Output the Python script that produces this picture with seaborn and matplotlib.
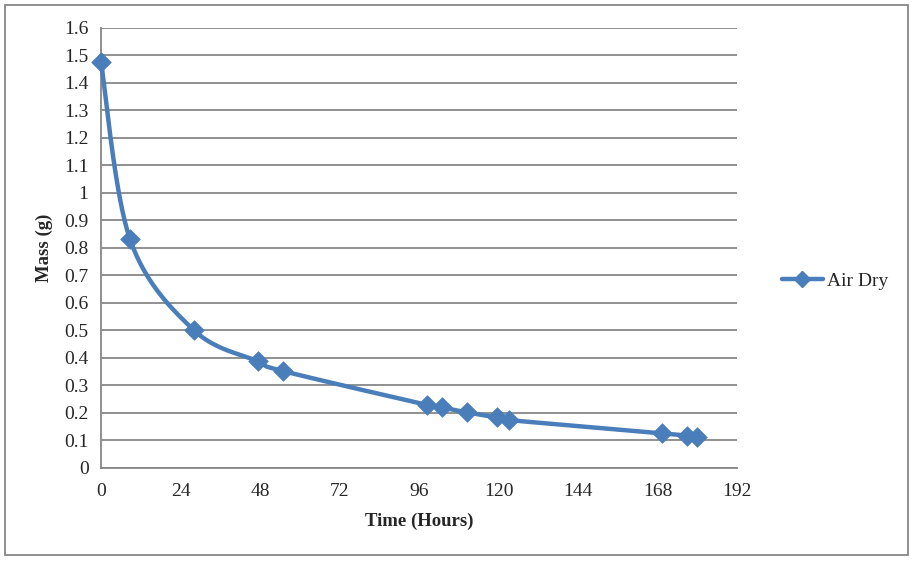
import numpy as np
import matplotlib
matplotlib.use("Agg")
import matplotlib.pyplot as plt
from matplotlib.lines import Line2D
from matplotlib.patches import Rectangle
import seaborn as sns

# ── DATA ──────────────────────────────────────────────────
hours = [0, 8.75, 28, 47.3, 55, 98.5, 103, 110.4, 119.5, 123.3, 169.3, 177, 180]
mass = [1.475, 0.831, 0.501, 0.388, 0.352, 0.229, 0.220, 0.202, 0.184, 0.174, 0.126, 0.117, 0.114]
series_name = "Air Dry"
x_ticks = [0, 24, 48, 72, 96, 120, 144, 168, 192]
y_ticks = [0, 0.1, 0.2, 0.3, 0.4, 0.5, 0.6, 0.7, 0.8, 0.9, 1, 1.1, 1.2, 1.3, 1.4, 1.5, 1.6]
y_tick_labels = ["0", "0.1", "0.2", "0.3", "0.4", "0.5", "0.6", "0.7", "0.8",
                 "0.9", "1", "1.1", "1.2", "1.3", "1.4", "1.5", "1.6"]

BLUE = "#4a7ebb"
GRAY = "#878787"


def smooth_curve(xs, ys, n=40):
    # Excel-style smoothed line: cubic bezier through the points (Catmull-Rom)
    pts = np.column_stack([xs, ys]).astype(float)
    ext = np.vstack([pts[0], pts, pts[-1]])
    out = []
    t = np.linspace(0, 1, n)[:, None]
    for i in range(1, len(ext) - 2):
        p0, p1, p2, p3 = ext[i - 1], ext[i], ext[i + 1], ext[i + 2]
        c1 = p1 + (p2 - p0) / 6
        c2 = p2 - (p3 - p1) / 6
        seg = ((1 - t) ** 3) * p1 + 3 * ((1 - t) ** 2) * t * c1 + 3 * (1 - t) * t ** 2 * c2 + t ** 3 * p2
        out.append(seg)
    seg = np.vstack(out)
    return seg[:, 0], seg[:, 1]


sns.set_style("white")
plt.rcParams["font.family"] = ["Liberation Serif", "DejaVu Serif"]

fig = plt.figure(figsize=(9.15, 5.62), dpi=100)
ax = fig.add_axes([101 / 915, 1 - 468 / 562, 636 / 915, 440.5 / 562])

sx, sy = smooth_curve(hours, mass)
ax.plot(sx, sy, color=BLUE, lw=3.2, solid_capstyle="round", zorder=3, clip_on=False)
sns.scatterplot(x=hours, y=mass, marker="D", s=100, color=BLUE, edgecolor=BLUE,
                linewidth=0.5, ax=ax, zorder=4, legend=False, clip_on=False)

ax.set_xlim(0, 192)
ax.set_ylim(0, 1.6)
ax.set_xticks(x_ticks)
ax.set_yticks(y_ticks)
ax.set_yticklabels(y_tick_labels)
ax.yaxis.grid(True, color=GRAY, lw=1.3)
ax.xaxis.grid(False)
ax.set_axisbelow(True)

for s in ["top", "right"]:
    ax.spines[s].set_visible(False)
for s in ["left", "bottom"]:
    ax.spines[s].set_color(GRAY)
    ax.spines[s].set_linewidth(1.3)

ax.tick_params(axis="both", which="major", direction="out", length=5, width=1.3,
               color=GRAY, labelsize=14, pad=4)
ax.tick_params(axis="x", pad=6)

ax.set_xlabel("Time (Hours)", fontsize=13.5, fontweight="bold", labelpad=9)
ax.set_ylabel("Mass (g)", fontsize=13.5, fontweight="bold", labelpad=8)

handle = Line2D([0], [0], color=BLUE, lw=3.2, marker="D", markersize=8.5)
fig.legend([handle], [series_name], loc="center left", bbox_to_anchor=(782 / 915, 1 - 281 / 562),
           frameon=False, fontsize=14, handlelength=2.1, handletextpad=0.2,
           borderpad=0, borderaxespad=0)

# outer chart border
fig.patches.append(Rectangle((5 / 915, 1 - 555 / 562), 903 / 915, 550 / 562,
                             transform=fig.transFigure, fill=False, edgecolor=GRAY, lw=1.3))

fig.savefig("out.png", dpi=100)
